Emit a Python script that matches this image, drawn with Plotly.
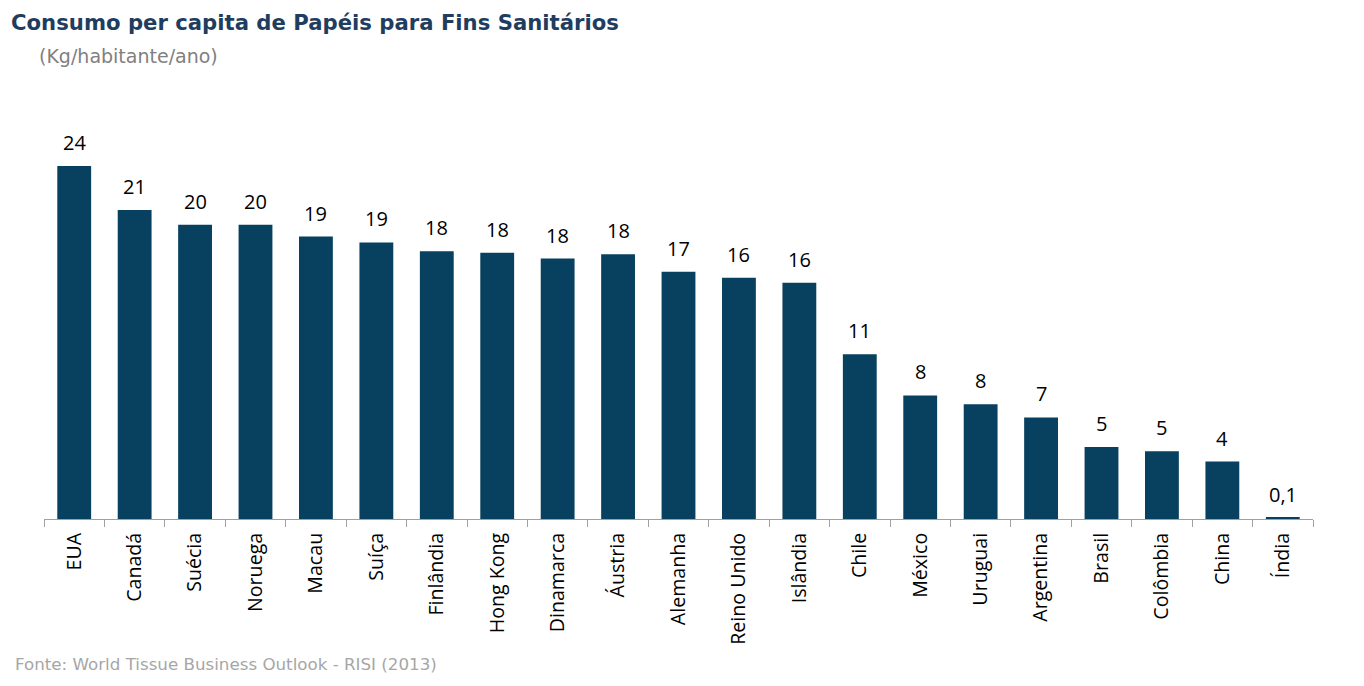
import plotly.graph_objects as go

countries = ["EUA", "Canadá", "Suécia", "Noruega", "Macau", "Suíça", "Finlândia",
             "Hong Kong", "Dinamarca", "Áustria", "Alemanha", "Reino Unido", "Islândia",
             "Chile", "México", "Uruguai", "Argentina", "Brasil", "Colômbia", "China", "Índia"]
values = [24.0, 21.0, 20.0, 20.0, 19.2, 18.8, 18.2, 18.1, 17.7, 18.0, 16.8, 16.4, 16.05,
          11.2, 8.4, 7.8, 6.9, 4.9, 4.6, 3.9, 0.1]
labels = ["24", "21", "20", "20", "19", "19", "18", "18", "18", "18", "17", "16", "16",
          "11", "8", "8", "7", "5", "5", "4", "0,1"]

W, H = 1348, 670          # page body has an 8px margin
L, T, PW, PH = 36, 102, 1269, 409

fig = go.Figure(go.Bar(
    x=countries, y=values,
    marker=dict(color="#08415F", line=dict(width=0)),
    cliponaxis=False, hoverinfo="skip",
))

annotations = [
    dict(x=c, y=v, text=t, xref="x", yref="y", showarrow=False,
         xanchor="center", yanchor="bottom", yshift=8,
         font=dict(family="Open Sans", size=20, color="#000000"))
    for c, v, t in zip(countries, values, labels)
]

annotations += [
    dict(text="<b>Consumo per capita de Papéis para Fins Sanitários</b>",
         xref="paper", yref="paper", x=0, y=1, xshift=1 - L, yshift=T - 14,
         xanchor="left", yanchor="middle", showarrow=False,
         font=dict(family="DejaVu Sans", size=21.2, color="#1F3D5E")),
    dict(text="(Kg/habitante/ano)",
         xref="paper", yref="paper", x=0, y=1, xshift=29 - L, yshift=T - 48,
         xanchor="left", yanchor="middle", showarrow=False,
         font=dict(family="DejaVu Sans", size=19, color="#808080")),
    dict(text="Fonte: World Tissue Business Outlook - RISI (2013)",
         xref="paper", yref="paper", x=0, y=0, xshift=5 - L, yshift=-(664 - 519),
         xanchor="left", yanchor="middle", showarrow=False,
         font=dict(family="DejaVu Sans", size=16.7, color="#A6A6A6")),
]

fig.update_layout(
    width=W, height=H,
    margin=dict(l=L, r=W - L - PW, t=T, b=H - T - PH, pad=0),
    plot_bgcolor="white", paper_bgcolor="white",
    bargap=0.44, showlegend=False,
    xaxis=dict(
        showline=True, linecolor="#A0A0A0", linewidth=1,
        ticks="outside", tickson="boundaries", ticklen=7, tickcolor="#A0A0A0",
        tickangle=-90, ticklabelstandoff=5,
        tickfont=dict(family="Open Sans", size=19.6, color="#000000"),
        showgrid=False,
    ),
    yaxis=dict(range=[0, 27.8], visible=False, showgrid=False),
    annotations=annotations,
)

fig.write_html("out.html")
